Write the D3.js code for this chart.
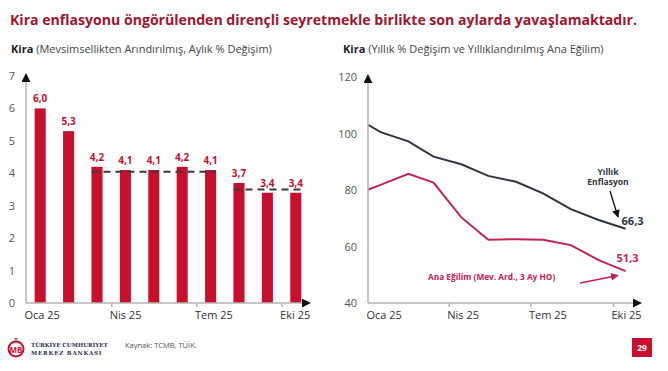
<!DOCTYPE html>
<html>
<head>
<meta charset="utf-8">
<script src="https://cdn.jsdelivr.net/npm/d3@7"></script>
<style>
  body { margin: 0; background: #fff; }
  svg { font-family: 'Open Sans', sans-serif; }
</style>
</head>
<body>
<svg width="668" height="371"></svg>
<script>
// left chart: monthly change, seasonally adjusted
const months = ['Oca','Şub','Mar','Nis','May','Haz','Tem','Ağu','Eyl','Eki']
const monthlyValues = [6.0, 5.3, 4.2, 4.1, 4.1, 4.2, 4.1, 3.7, 3.4, 3.4]
const leftTickIdx = [0, 3, 6, 9]
const leftTickLabels = ['Oca 25', 'Nis 25', 'Tem 25', 'Eki 25']
const leftYTicks = [0, 1, 2, 3, 4, 5, 6, 7]
// dashed averages: [first month idx, last month idx, value]
const avgLines = [[2, 6, 4.05], [7, 9, 3.5]]

// right chart: annual change and annualized trend
const lineDates = ['2025-01-01','2025-01-15','2025-02-15','2025-03-15','2025-04-15','2025-05-15',
                   '2025-06-15','2025-07-15','2025-08-15','2025-09-15','2025-10-15']
const annualValues = [103.1, 100.5, 97.2, 91.8, 89.1, 85.0, 82.9, 78.8, 73.2, 69.4, 66.3]
const trendValues = [80.1, 81.8, 85.7, 82.6, 70.3, 62.4, 62.6, 62.4, 60.5, 55.2, 51.3]
const rightTickDates = ['2025-01-01','2025-04-01','2025-07-01','2025-10-01']
const rightTickLabels = ['Oca 25', 'Nis 25', 'Tem 25', 'Eki 25']
const rightYTicks = [40, 60, 80, 100, 120]

const red = '#c8102e'
const lineRed = '#c42350'
const dark = '#2f3540'
const axisGrey = '#b4b4b4'
const textGrey = '#555'

let svg = d3.select('svg')
let parse = d3.timeParse('%Y-%m-%d')
let fmt = v => d3.format('.1f')(v).replace('.', ',')

let defs = svg.append('defs')
let addMarker = (id, color) => {
    defs.append('marker')
    .attr('id', id)
    .attr('viewBox', '0 0 10 10')
    .attr('refX', 9).attr('refY', 5)
    .attr('markerWidth', 6).attr('markerHeight', 6)
    .attr('orient', 'auto')
    .append('path')
    .attr('d', 'M0,0 L10,5 L0,10 z')
    .attr('fill', color)
}
addMarker('arrBlack', '#111')
addMarker('arrRed', lineRed)

// header
svg.append('text')
.attr('x', 10).attr('y', 25)
.attr('font-size', 14).attr('font-weight', 700)
.attr('textLength', 627).attr('lengthAdjust', 'spacingAndGlyphs')
.attr('fill', '#a3142c')
.text('Kira enflasyonu öngörülenden dirençli seyretmekle birlikte son aylarda yavaşlamaktadır.')

let sub = (x, rest) => {
    let t = svg.append('text').attr('x', x).attr('y', 53).attr('font-size', 11).attr('fill', '#222')
    t.append('tspan').attr('font-weight', 700).text('Kira')
    t.append('tspan').attr('fill', '#444').text(' ' + rest)
}
sub(11, '(Mevsimsellikten Arındırılmış, Aylık % Değişim)')
sub(343, '(Yıllık % Değişim ve Yıllıklandırılmış Ana Eğilim)')

// ---------- left chart ----------
let xBand = d3.scaleBand().domain(months).range([26, 310]).paddingInner(0.61).paddingOuter(0.305)
let xIdx = d3.scaleLinear().domain([0, 10]).range([26, 310])
let yLeft = d3.scaleLinear().domain([0, 7]).range([303, 76])

svg.selectAll('rect.bar')
.data(monthlyValues)
.enter()
.append('rect')
.attr('class', 'bar')
.attr('x', (d, i) => xBand(months[i]))
.attr('width', xBand.bandwidth())
.attr('y', d => yLeft(d))
.attr('height', d => yLeft(0) - yLeft(d))
.attr('fill', red)

svg.selectAll('text.barlab')
.data(monthlyValues)
.enter()
.append('text')
.attr('class', 'barlab')
.attr('x', (d, i) => xBand(months[i]) + xBand.bandwidth() / 2)
.attr('y', d => yLeft(d) - 6)
.attr('text-anchor', 'middle')
.attr('font-size', 10).attr('font-weight', 700)
.attr('fill', red)
.text(d => fmt(d))

avgLines.forEach(a => {
    svg.append('line')
    .attr('x1', xBand(months[a[0]]))
    .attr('x2', xBand(months[a[1]]) + xBand.bandwidth())
    .attr('y1', yLeft(a[2])).attr('y2', yLeft(a[2]))
    .attr('stroke', '#3a3a3a').attr('stroke-width', 2)
    .attr('stroke-dasharray', '7,5')
})

let leftX = svg.append('g')
.attr('transform', 'translate(0,' + yLeft(0) + ')')
.call(d3.axisBottom(xIdx).tickValues(leftTickIdx).tickSize(4).tickSizeOuter(0)
      .tickFormat((d, i) => leftTickLabels[i]))
leftX.select('.domain').remove()
leftX.selectAll('line').attr('stroke', axisGrey).attr('stroke-width', 1.5)
leftX.selectAll('.tick').filter(d => d === 0).select('line').remove()
leftX.selectAll('text').attr('text-anchor', 'start').attr('dx', -2).attr('dy', 9)
.attr('font-size', 11).attr('font-family', 'Open Sans').attr('fill', '#333')

let leftY = svg.append('g')
.attr('transform', 'translate(26,0)')
.call(d3.axisLeft(yLeft).tickValues(leftYTicks).tickSize(0).tickPadding(11).tickFormat(d3.format('d')))
leftY.select('.domain').remove()
leftY.selectAll('text').attr('font-size', 11).attr('font-family', 'Open Sans').attr('fill', textGrey)

svg.append('line').attr('x1', 26).attr('x2', 26).attr('y1', yLeft(0)).attr('y2', 74)
.attr('stroke', axisGrey).attr('stroke-width', 1.5).attr('marker-end', 'url(#arrBlack)')
svg.append('line').attr('x1', 26).attr('x2', 310).attr('y1', yLeft(0)).attr('y2', yLeft(0))
.attr('stroke', axisGrey).attr('stroke-width', 1.5).attr('marker-end', 'url(#arrBlack)')

// ---------- right chart ----------
let xTime = d3.scaleTime().domain([parse('2025-01-01'), parse('2025-10-01')]).range([368, 613])
let yRight = d3.scaleLinear().domain([40, 120]).range([303, 77])

let line = d3.line().x((d, i) => xTime(parse(lineDates[i]))).y(d => yRight(d))

svg.append('path').datum(annualValues)
.attr('d', line).attr('fill', 'none')
.attr('stroke', dark).attr('stroke-width', 2)

svg.append('path').datum(trendValues)
.attr('d', line).attr('fill', 'none')
.attr('stroke', lineRed).attr('stroke-width', 2)

let rightX = svg.append('g')
.attr('transform', 'translate(0,' + yRight(40) + ')')
.call(d3.axisBottom(xTime).tickValues(rightTickDates.map(parse)).tickSize(4).tickSizeOuter(0)
      .tickFormat((d, i) => rightTickLabels[i]))
rightX.select('.domain').remove()
rightX.selectAll('line').attr('stroke', axisGrey).attr('stroke-width', 1.5)
rightX.selectAll('.tick').filter((d, i) => i === 0).select('line').remove()
rightX.selectAll('text').attr('text-anchor', 'start').attr('dx', -2).attr('dy', 9)
.attr('font-size', 11).attr('font-family', 'Open Sans').attr('fill', '#333')

let rightY = svg.append('g')
.attr('transform', 'translate(368,0)')
.call(d3.axisLeft(yRight).tickValues(rightYTicks).tickSize(0).tickPadding(11))
rightY.select('.domain').remove()
rightY.selectAll('text').attr('font-size', 11).attr('font-family', 'Open Sans').attr('fill', textGrey)

svg.append('line').attr('x1', 368).attr('x2', 368).attr('y1', yRight(40)).attr('y2', 75)
.attr('stroke', axisGrey).attr('stroke-width', 1.5).attr('marker-end', 'url(#arrBlack)')
svg.append('line').attr('x1', 368).attr('x2', 641).attr('y1', yRight(40)).attr('y2', yRight(40))
.attr('stroke', axisGrey).attr('stroke-width', 1.5).attr('marker-end', 'url(#arrBlack)')

// annotations
let lastX = xTime(parse(lineDates[lineDates.length - 1]))
svg.append('text').attr('x', 608).attr('y', 175).attr('text-anchor', 'middle')
.attr('font-size', 8.5).attr('font-weight', 700).attr('fill', dark).text('Yıllık')
svg.append('text').attr('x', 608).attr('y', 185).attr('text-anchor', 'middle')
.attr('font-size', 8.5).attr('font-weight', 700).attr('fill', dark).text('Enflasyon')
svg.append('line').attr('x1', 610).attr('y1', 191).attr('x2', 618).attr('y2', 217)
.attr('stroke', '#111').attr('stroke-width', 1.3).attr('marker-end', 'url(#arrBlack)')
svg.append('text').attr('x', lastX - 4).attr('y', yRight(annualValues[10]) - 4)
.attr('font-size', 11).attr('font-weight', 700).attr('fill', dark).text(fmt(annualValues[10]))

svg.append('text').attr('x', lastX - 9).attr('y', yRight(trendValues[10]) - 9)
.attr('font-size', 11).attr('font-weight', 700).attr('fill', lineRed).text(fmt(trendValues[10]))
svg.append('text').attr('x', 428).attr('y', 280)
.attr('font-size', 8.3).attr('font-weight', 700).attr('fill', lineRed).text('Ana Eğilim (Mev. Ard., 3 Ay HO)')
svg.append('line').attr('x1', 580).attr('y1', 283).attr('x2', 618).attr('y2', 275.5)
.attr('stroke', lineRed).attr('stroke-width', 1.3).attr('marker-end', 'url(#arrRed)')

// footer
let logo = svg.append('g').attr('transform', 'translate(7,340)')
logo.append('circle').attr('cx', 9).attr('cy', 9).attr('r', 7.5)
.attr('fill', 'none').attr('stroke', red).attr('stroke-width', 2)
logo.append('text').attr('x', 9).attr('y', 13).attr('text-anchor', 'middle')
.attr('font-size', 8).attr('font-weight', 700).attr('fill', red).text('MB')
logo.append('text').attr('x', 9).attr('y', 2).attr('text-anchor', 'middle')
.attr('font-size', 6).attr('font-weight', 700).attr('fill', red).text('T')
logo.append('text').attr('x', 24).attr('y', 7).attr('font-family', 'DejaVu Serif')
.attr('font-size', 5.6).attr('font-weight', 700).attr('fill', '#2a2f55').text('TÜRKİYE CUMHURİYET')
logo.append('text').attr('x', 24).attr('y', 15).attr('font-family', 'DejaVu Serif')
.attr('font-size', 5.6).attr('font-weight', 700).attr('fill', '#2a2f55').attr('letter-spacing', 0.8).text('MERKEZ BANKASI')

svg.append('text').attr('x', 125).attr('y', 348)
.attr('font-size', 7.5).attr('fill', '#555').text('Kaynak: TCMB, TÜİK.')

svg.append('rect').attr('x', 632).attr('y', 338).attr('width', 20).attr('height', 19).attr('fill', red)
svg.append('text').attr('x', 642).attr('y', 351).attr('text-anchor', 'middle')
.attr('font-size', 8.5).attr('font-weight', 700).attr('fill', '#fff').text('29')
</script>
</body>
</html>
